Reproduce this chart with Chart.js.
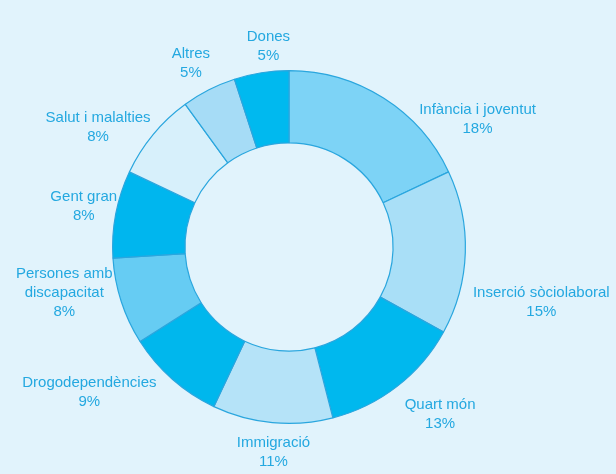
<!DOCTYPE html>
<html>
<head>
<meta charset="utf-8">
<script src="https://cdn.jsdelivr.net/npm/chart.js@4/dist/chart.umd.min.js"></script>
<style>
  html, body { margin: 0; padding: 0; background: #e1f3fc; }
  #wrap { width: 616px; height: 474px; }
</style>
</head>
<body>
<div id="wrap"><canvas id="c" width="616" height="474"></canvas></div>
<script>
// Distribution of entities by field of action (%)
const categories = [
  'Infància i joventut',
  'Inserció sòciolaboral',
  'Quart món',
  'Immigració',
  'Drogodependències',
  'Persones amb\ndiscapacitat',
  'Gent gran',
  'Salut i malalties',
  'Altres',
  'Dones'
];
const shares = [18, 15, 13, 11, 9, 8, 8, 8, 5, 5];

const sliceColors = [
  '#7dd3f6', '#a9dff7', '#00b8ee', '#b5e3f8', '#00b7ed',
  '#66ccf3', '#00b6ee', '#d7f0fb', '#a6dcf6', '#00b9ef'
];

// Label block offset (px) from the outer midpoint of each slice
const labelOffsets = [
  [94, 21], [76, 50], [43, 28], [1, 30], [-83, 13],
  [-57, -9], [-32, -8], [-55, -7], [-18, -26], [7, -26]
];

const bgPlugin = {
  id: 'bg',
  beforeDraw(chart) {
    const ctx = chart.ctx;
    ctx.save();
    ctx.fillStyle = '#e1f3fc';
    ctx.fillRect(0, 0, chart.width, chart.height);
    ctx.restore();
  }
};

const sliceLabels = {
  id: 'sliceLabels',
  afterDatasetsDraw(chart) {
    const ctx = chart.ctx;
    const meta = chart.getDatasetMeta(0);
    const lineH = 19;
    ctx.save();
    ctx.font = '15px "Liberation Sans", Arial, sans-serif';
    ctx.fillStyle = '#24a8e0';
    ctx.textAlign = 'center';
    ctx.textBaseline = 'middle';
    meta.data.forEach((arc, i) => {
      const p = arc.getProps(['x', 'y', 'startAngle', 'endAngle', 'outerRadius'], true);
      const mid = (p.startAngle + p.endAngle) / 2;
      const ax = p.x + Math.cos(mid) * p.outerRadius + labelOffsets[i][0];
      const ay = p.y + Math.sin(mid) * p.outerRadius + labelOffsets[i][1];
      const lines = categories[i].split('\n').concat([shares[i] + '%']);
      const top = ay - (lines.length - 1) * lineH / 2;
      lines.forEach((t, k) => ctx.fillText(t, ax, top + k * lineH));
    });
    ctx.restore();
  }
};

new Chart(document.getElementById('c'), {
  type: 'doughnut',
  data: {
    labels: categories,
    datasets: [{
      data: shares,
      backgroundColor: sliceColors,
      borderColor: '#2aa6de',
      borderWidth: 1.2,
      hoverOffset: 0
    }]
  },
  options: {
    responsive: false,
    animation: false,
    cutout: '59%',
    rotation: 0,
    layout: { padding: { left: 0, right: 38, top: 70, bottom: 50 } },
    plugins: {
      legend: { display: false },
      tooltip: { enabled: false }
    }
  },
  plugins: [bgPlugin, sliceLabels]
});
</script>
</body>
</html>
